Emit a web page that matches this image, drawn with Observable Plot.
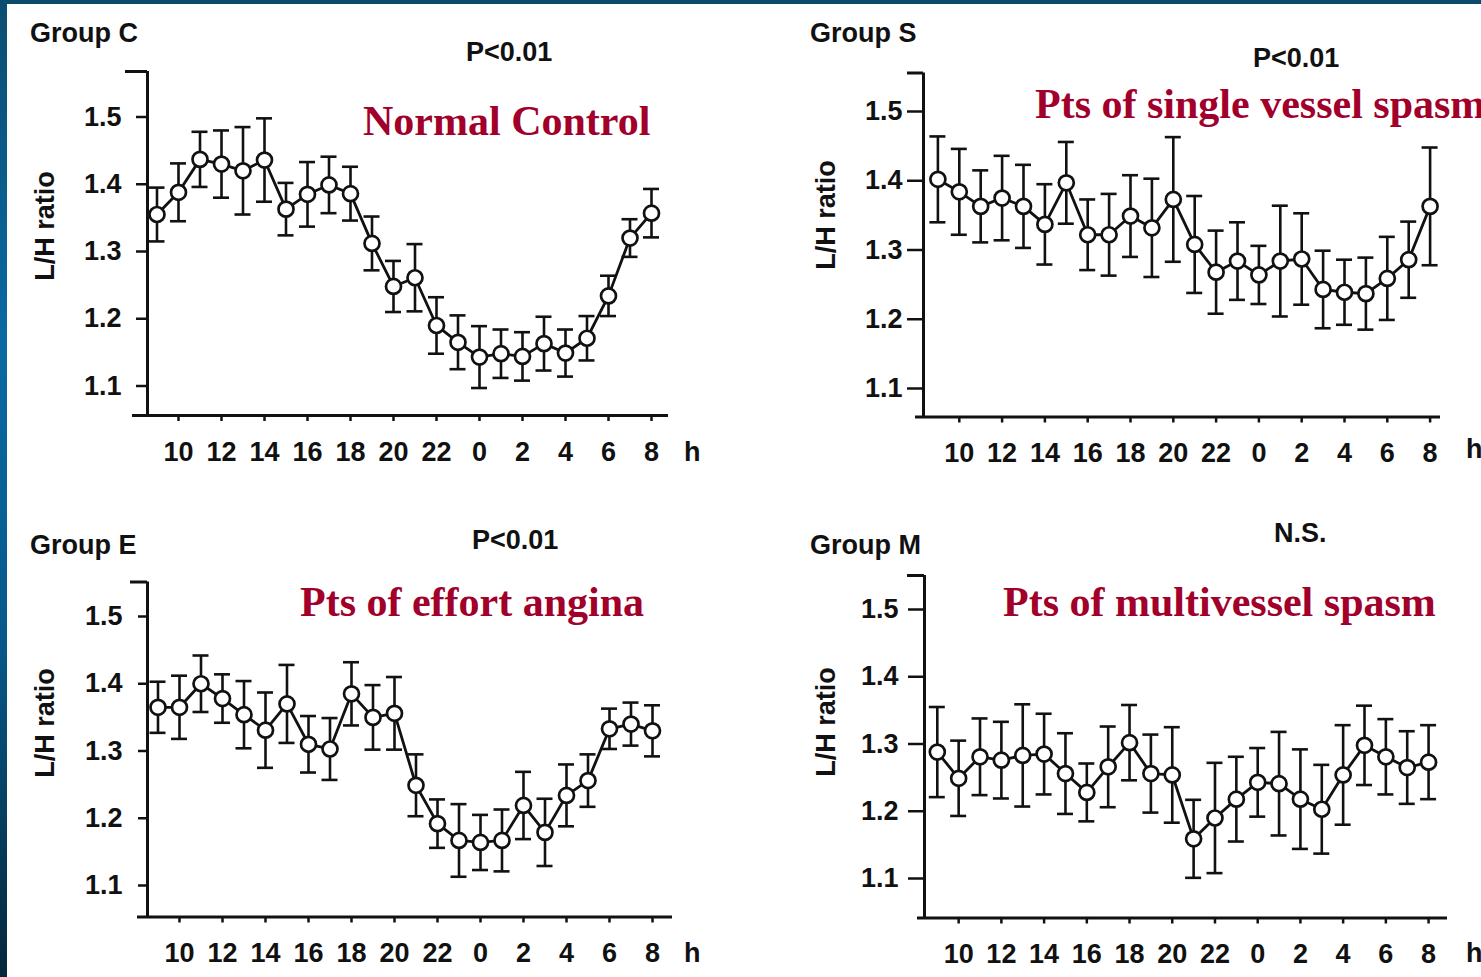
<!DOCTYPE html>
<html>
<head>
<meta charset="utf-8">
<script src="https://cdn.jsdelivr.net/npm/d3@7"></script>
<script src="https://cdn.jsdelivr.net/npm/@observablehq/plot@0.6"></script>
<style>
  html, body { margin: 0; padding: 0; background: #fff; }
  #page { position: relative; width: 1481px; height: 977px; overflow: hidden; background: #fff; }
  .frame-top { position: absolute; left: 0; top: 0; width: 1481px; height: 4px; background: #0b4a6c; z-index: 5; }
  .frame-left { position: absolute; left: 0; top: 0; width: 7px; height: 977px; z-index: 5;
    background: linear-gradient(#0b4d70, #0a6aa3 35%, #07598a 65%, #05273b); }
  .panel { position: absolute; left: 0; top: 0; }
  .lbl { position: absolute; white-space: nowrap; font-family: "Liberation Sans", Arial, sans-serif;
    font-weight: bold; font-size: 27px; line-height: 27px; color: #111; }
  .red { position: absolute; white-space: nowrap; font-family: "Liberation Serif", "Times New Roman", serif;
    font-weight: bold; font-size: 42px; line-height: 42px; color: #a1002b; }
  .ylab { transform: translate(-50%, -50%) rotate(-90deg); }
</style>
</head>
<body>
<div id="page">
  <div class="frame-top"></div>
  <div class="frame-left"></div>

  <div class="lbl" style="left:30px;top:20px">Group C</div>
  <div class="lbl" style="left:466px;top:39px">P&lt;0.01</div>
  <div class="red" style="left:363px;top:100px">Normal Control</div>
  <div class="lbl ylab" style="left:45px;top:226px">L/H ratio</div>
  <div class="lbl" style="left:684px;top:439px">h</div>

  <div class="lbl" style="left:810px;top:20px">Group S</div>
  <div class="lbl" style="left:1253px;top:45px">P&lt;0.01</div>
  <div class="red" style="left:1035px;top:83px">Pts of single vessel spasm</div>
  <div class="lbl ylab" style="left:826px;top:215px">L/H ratio</div>
  <div class="lbl" style="left:1466px;top:436px">h</div>

  <div class="lbl" style="left:30px;top:532px">Group E</div>
  <div class="lbl" style="left:472px;top:527px">P&lt;0.01</div>
  <div class="red" style="left:300px;top:581px">Pts of effort angina</div>
  <div class="lbl ylab" style="left:45px;top:723px">L/H ratio</div>
  <div class="lbl" style="left:684px;top:940px">h</div>

  <div class="lbl" style="left:810px;top:532px">Group M</div>
  <div class="lbl" style="left:1274px;top:520px">N.S.</div>
  <div class="red" style="left:1003px;top:581px">Pts of multivessel spasm</div>
  <div class="lbl ylab" style="left:826px;top:722px">L/H ratio</div>
  <div class="lbl" style="left:1466px;top:940px">h</div>
</div>
<script>
// Clock hours of the 24 hourly samples, starting at 9 h
const hours = [9, 10, 11, 12, 13, 14, 15, 16, 17, 18, 19, 20, 21, 22, 23, 0, 1, 2, 3, 4, 5, 6, 7, 8];
// Hours that carry a labelled tick on the time axis
const tickHours = [10, 12, 14, 16, 18, 20, 22, 0, 2, 4, 6, 8];
// L/H ratio ticks
const ratioTicks = [1.1, 1.2, 1.3, 1.4, 1.5];

// Group C – normal control: hourly mean L/H ratio and SEM
const meanC = [1.355, 1.388, 1.437, 1.430, 1.420, 1.436, 1.363, 1.385, 1.399, 1.386, 1.312, 1.248,
               1.261, 1.190, 1.165, 1.143, 1.148, 1.144, 1.163, 1.149, 1.171, 1.234, 1.320, 1.357];
const semC  = [0.040, 0.043, 0.041, 0.050, 0.065, 0.062, 0.039, 0.048, 0.042, 0.040, 0.040, 0.038,
               0.050, 0.042, 0.040, 0.046, 0.036, 0.036, 0.040, 0.035, 0.033, 0.030, 0.028, 0.036];

// Group S – single vessel spasm
const meanS = [1.402, 1.384, 1.363, 1.375, 1.363, 1.337, 1.397, 1.322, 1.322, 1.349, 1.332, 1.373,
               1.308, 1.268, 1.284, 1.264, 1.284, 1.287, 1.243, 1.239, 1.237, 1.259, 1.286, 1.363];
const semS  = [0.062, 0.062, 0.052, 0.061, 0.060, 0.058, 0.059, 0.051, 0.059, 0.059, 0.071, 0.090,
               0.070, 0.060, 0.056, 0.042, 0.080, 0.066, 0.056, 0.047, 0.052, 0.060, 0.055, 0.085];

// Group E – effort angina
const meanE = [1.365, 1.365, 1.400, 1.378, 1.354, 1.331, 1.370, 1.310, 1.303, 1.385, 1.350, 1.356,
               1.249, 1.192, 1.167, 1.164, 1.167, 1.219, 1.179, 1.234, 1.256, 1.333, 1.340, 1.330];
const semE  = [0.038, 0.047, 0.042, 0.036, 0.050, 0.056, 0.058, 0.042, 0.046, 0.047, 0.048, 0.054,
               0.046, 0.036, 0.054, 0.041, 0.046, 0.050, 0.050, 0.046, 0.039, 0.030, 0.032, 0.038];

// Group M – multivessel spasm
const meanM = [1.288, 1.249, 1.281, 1.276, 1.283, 1.285, 1.256, 1.228, 1.266, 1.302, 1.256, 1.254,
               1.159, 1.190, 1.218, 1.243, 1.241, 1.218, 1.203, 1.254, 1.298, 1.281, 1.265, 1.273];
const semM  = [0.067, 0.056, 0.057, 0.057, 0.076, 0.060, 0.060, 0.043, 0.060, 0.056, 0.058, 0.071,
               0.058, 0.082, 0.063, 0.051, 0.077, 0.074, 0.066, 0.074, 0.059, 0.056, 0.054, 0.055];

const W = 1481, H = 977;
const ink = "#111";

// Page-space layout of each panel's frame (pixels)
const layouts = {
  C: {yAxisX: 147, xLeft: 132, xRight: 668, xAxisY: 415, capY: 71, capLeft: 125,
      y15: 116.5, y11: 385.5, x0: 156.5, dx: 21.5, tickLen: 11, tickPad: 15},
  S: {yAxisX: 923, xLeft: 915, xRight: 1440, xAxisY: 416.5, capY: 72.5, capLeft: 907,
      y15: 111, y11: 388, x0: 937.4, dx: 21.4, tickLen: 16, tickPad: 5},
  E: {yAxisX: 147, xLeft: 137, xRight: 672, xAxisY: 916.5, capY: 581.5, capLeft: 130,
      y15: 616, y11: 885, x0: 157.5, dx: 21.5, tickLen: 9, tickPad: 16},
  M: {yAxisX: 924, xLeft: 917, xRight: 1447, xAxisY: 917.5, capY: 575, capLeft: 907,
      y15: 609, y11: 878, x0: 936.8, dx: 21.36, tickLen: 16, tickPad: 10}
};

function drawPanel(mean, sem, g) {
  const rows = hours.map((h, i) => ({i, h, mean: mean[i], lo: mean[i] - sem[i], hi: mean[i] + sem[i]}));
  const idx = px => (px - g.x0) / g.dx;           // page x -> sample index
  const k = (g.y11 - g.y15) / 0.4;                 // pixels per ratio unit
  const yTop = 1.5 + (g.y15 - g.capY) / k;
  const yBot = 1.1 - (g.xAxisY - g.y11) / k;
  const xDom = [idx(g.yAxisX), idx(g.xRight)];
  const cap = 8 / g.dx;                            // half width of error-bar caps
  const tickIdx = tickHours.map(h => hours.indexOf(h));

  return Plot.plot({
    width: W, height: H,
    marginLeft: g.yAxisX, marginRight: W - g.xRight,
    marginTop: g.capY, marginBottom: H - g.xAxisY,
    style: {
      background: "transparent", overflow: "visible", color: ink,
      fontFamily: '"Liberation Sans", Arial, sans-serif', fontSize: "27px", fontWeight: "bold"
    },
    x: {type: "linear", domain: xDom},
    y: {type: "linear", domain: [yBot, yTop]},
    marks: [
      Plot.axisY({ticks: ratioTicks, tickFormat: d3.format(".1f"), tickSize: g.tickLen,
                  tickPadding: g.tickPad, strokeWidth: 2.5, label: null}),
      Plot.axisX({ticks: tickIdx, tickFormat: i => String(hours[i]), tickSize: 6,
                  tickPadding: 20, strokeWidth: 2.5, label: null}),
      // axis lines, with the cap at the top of the ratio axis
      Plot.ruleX([xDom[0]], {stroke: ink, strokeWidth: 3}),
      Plot.ruleY([yTop], {x1: idx(g.capLeft), x2: xDom[0], stroke: ink, strokeWidth: 3}),
      Plot.ruleY([yBot], {x1: idx(g.xLeft), x2: xDom[1], stroke: ink, strokeWidth: 3}),
      // SEM error bars
      Plot.ruleX(rows, {x: "i", y1: "lo", y2: "hi", stroke: ink, strokeWidth: 2.6}),
      Plot.ruleY(rows, {y: "hi", x1: d => d.i - cap, x2: d => d.i + cap, stroke: ink, strokeWidth: 2.6}),
      Plot.ruleY(rows, {y: "lo", x1: d => d.i - cap, x2: d => d.i + cap, stroke: ink, strokeWidth: 2.6}),
      // hourly means
      Plot.line(rows, {x: "i", y: "mean", stroke: ink, strokeWidth: 2.8}),
      Plot.dot(rows, {x: "i", y: "mean", r: 7.5, fill: "white", stroke: ink, strokeWidth: 2.7})
    ]
  });
}

const page = document.getElementById("page");
[[meanC, semC, layouts.C], [meanS, semS, layouts.S], [meanE, semE, layouts.E], [meanM, semM, layouts.M]]
  .forEach(([m, s, g]) => {
    const svg = drawPanel(m, s, g);
    svg.classList.add("panel");
    svg.style.position = "absolute";
    svg.style.left = "0px";
    svg.style.top = "0px";
    page.appendChild(svg);
  });
</script>
</body>
</html>
